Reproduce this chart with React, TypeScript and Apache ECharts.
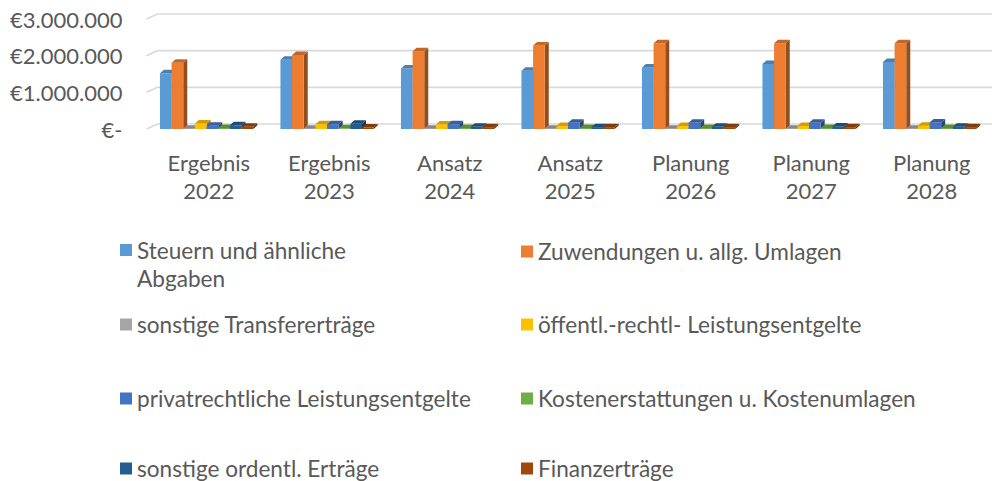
import React, { useEffect, useRef } from 'react';
import * as echarts from 'echarts';

const categories = ['Ergebnis 2022', 'Ergebnis 2023', 'Ansatz 2024', 'Ansatz 2025', 'Planung 2026', 'Planung 2027', 'Planung 2028'];
const seriesNames = [
  'Steuern und ähnliche Abgaben',
  'Zuwendungen u. allg. Umlagen',
  'sonstige Transfererträge',
  'öffentl.-rechtl- Leistungsentgelte',
  'privatrechtliche Leistungsentgelte',
  'Kostenerstattungen u. Kostenumlagen',
  'sonstige ordentl. Erträge',
  'Finanzerträge',
];
const steuern = [1520000, 1890000, 1650000, 1590000, 1680000, 1770000, 1830000];
const zuwendungen = [1810000, 2020000, 2120000, 2280000, 2340000, 2340000, 2340000];
const transfer = [10000, 10000, 10000, 10000, 10000, 10000, 10000];
const oeffentl = [150000, 130000, 120000, 80000, 80000, 80000, 90000];
const privat = [90000, 130000, 130000, 170000, 170000, 170000, 180000];
const kosten = [30000, 20000, 30000, 30000, 30000, 30000, 30000];
const sonstigeOrd = [100000, 140000, 60000, 50000, 60000, 70000, 60000];
const finanz = [60000, 40000, 50000, 50000, 50000, 50000, 50000];
const seriesValues = [steuern, zuwendungen, transfer, oeffentl, privat, kosten, sonstigeOrd, finanz];
const colors = ['#5B9BD5', '#ED7D31', '#A5A5A5', '#FFC000', '#4472C4', '#70AD47', '#255E91', '#9E480E'];
const yTicks = [0, 1000000, 2000000, 3000000];

const FONT = 'Lato';
const TEXT = '#595959';
const FS = 22;
const LFS = 22.6;

function shade(hex: string, f: number) {
  const n = parseInt(hex.slice(1), 16);
  const r = Math.round(((n >> 16) & 255) * f);
  const g = Math.round(((n >> 8) & 255) * f);
  const b = Math.round((n & 255) * f);
  return `rgb(${r},${g},${b})`;
}

function fmtEuro(v: number) {
  if (v === 0) return '€-';
  return '€' + String(Math.round(v)).replace(/\B(?=(\d{3})+(?!\d))/g, '.');
}

export default function App() {
  const ref = useRef<HTMLDivElement>(null);
  useEffect(() => {
    if (!ref.current) return;
    const chart = echarts.init(ref.current, undefined, { renderer: 'svg' });
    const DX = 4;
    const DY = 3.5;
    const barSeries = seriesNames.map((name, idx) => ({
      type: 'custom',
      name,
      z: 2,
      clip: false,
      itemStyle: { color: colors[idx] },
      data: categories.map((_, i) => [i, seriesValues[idx][i]]),
      renderItem: (params: any, api: any) => {
        const ci = api.value(0);
        const v = api.value(1);
        const top = api.coord([ci, v]);
        const base = api.coord([ci, 0]);
        const bandW = api.size([1, 0])[0];
        const bw = bandW * 0.0967;
        const x = top[0] - bandW * 0.405 + idx * bw;
        const yT = top[1];
        const yB = base[1];
        const c = colors[idx];
        return {
          type: 'group',
          children: [
            {
              type: 'polygon',
              shape: { points: [[x + bw, yB], [x + bw + DX, yB - DY], [x + bw + DX, yT - DY], [x + bw, yT]] },
              style: { fill: shade(c, 0.62) },
            },
            {
              type: 'rect',
              shape: { x, y: yT, width: bw, height: yB - yT },
              style: { fill: c },
            },
            {
              type: 'polygon',
              shape: { points: [[x, yT], [x + DX, yT - DY], [x + bw + DX, yT - DY], [x + bw, yT]] },
              style: { fill: shade(c, 0.82) },
            },
          ],
        };
      },
    }));

    const gridSeries = {
      type: 'custom',
      name: '_gridlines',
      z: 1,
      silent: true,
      clip: false,
      data: yTicks.map((t) => [0, t]),
      renderItem: (params: any, api: any) => {
        const p = api.coord([0, api.value(1)]);
        const cs = params.coordSys;
        return {
          type: 'polyline',
          shape: { points: [[cs.x - 2, p[1]], [cs.x + 9, p[1] - 5], [cs.x + cs.width + 10, p[1] - 5]] },
          style: { stroke: '#d9d9d9', lineWidth: 1.6, fill: null },
        };
      },
    };

    const rowCenters = [250, 323, 397, 467];
    const legends = seriesNames.map((name, i) => {
      const row = Math.floor(i / 2);
      const col = i % 2;
      const multi = i === 0;
      const lh = multi ? 28 : 20;
      return {
        data: [name],
        left: col ? 521 : 120,
        top: rowCenters[row] - (multi ? 42 : 10),
        orient: 'horizontal',
        padding: 0,
        itemWidth: 12,
        itemHeight: 12,
        icon: 'rect',
        selectedMode: false,
        formatter: multi ? () => '\nSteuern und ähnliche\nAbgaben' : undefined,
        textStyle: { fontSize: LFS, color: TEXT, lineHeight: lh, fontFamily: FONT },
      };
    });

    chart.setOption({
      animation: false,
      backgroundColor: '#ffffff',
      grid: { left: 148.5, top: 19, height: 110, right: -3 },
      legend: legends,
      xAxis: {
        type: 'category',
        data: categories,
        axisLine: { show: false },
        axisTick: { show: false },
        axisLabel: {
          formatter: (s: string) => s.replace(' ', '\n'),
          margin: 19,
          lineHeight: 28,
          fontSize: FS,
          color: TEXT,
          fontFamily: FONT,
          interval: 0,
        },
      },
      yAxis: {
        type: 'value',
        min: 0,
        max: 3000000,
        interval: 1000000,
        splitLine: { show: false },
        axisLine: { show: false },
        axisTick: { show: false },
        axisLabel: {
          formatter: fmtEuro,
          margin: 26,
          fontSize: FS,
          color: TEXT,
          fontFamily: FONT,
          padding: [7, 0, 0, 0],
        },
      },
      series: [gridSeries, ...barSeries],
    });
    return () => chart.dispose();
  }, []);
  return <div ref={ref} style={{ position: 'absolute', left: 0, top: 0, width: 992, height: 481 }} />;
}
